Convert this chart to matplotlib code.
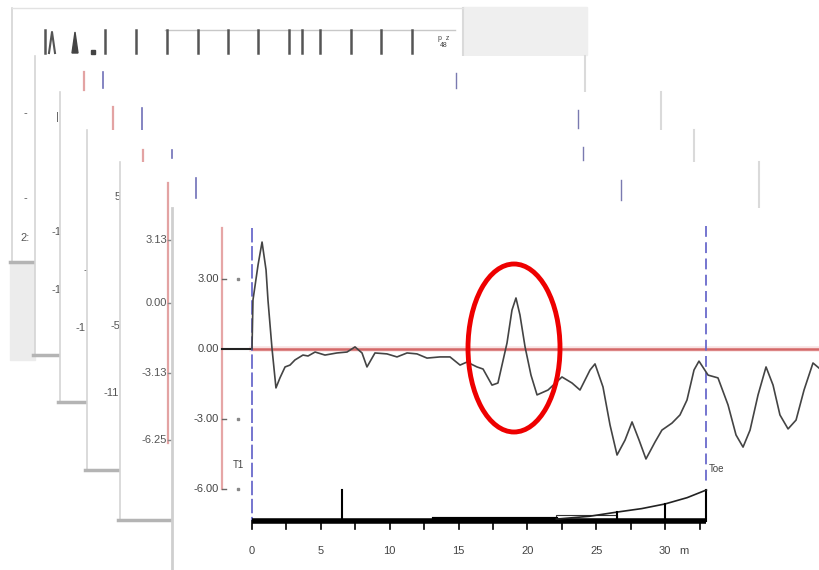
import matplotlib
matplotlib.use("Agg")
import matplotlib.pyplot as plt
from matplotlib.patches import Rectangle, Ellipse

plt.rcParams['font.family'] = ['Liberation Sans', 'DejaVu Sans']

# ---------------------------------------------------------------------------
# Datos de la traza principal (distancia en m, amplitud)
# ---------------------------------------------------------------------------
dist_m = [0.00, 0.07, 0.44, 0.73, 1.02, 1.16, 1.45, 1.74, 2.03, 2.40, 2.76,
          3.12, 3.70, 4.07, 4.58, 5.30, 6.17, 6.90, 7.48, 7.99, 8.35, 8.93,
          9.80, 10.53, 11.26, 11.98, 12.71, 13.65, 14.38, 15.11, 15.61,
          16.34, 16.78, 17.43, 17.86, 18.52, 18.88, 19.17, 19.46, 19.83,
          20.26, 20.70, 21.50, 22.51, 23.24, 23.82, 24.55, 24.91, 25.49,
          26.00, 26.51, 27.09, 27.60, 28.11, 28.61, 29.27, 29.77, 30.50,
          31.08, 31.59, 32.10, 32.46, 33.12, 33.84, 34.57, 35.15, 35.66,
          36.17, 36.75, 37.33, 37.84, 38.34, 38.93, 39.51, 40.09, 40.74,
          41.18]
amplitud = [0.00, 2.10, 3.61, 4.59, 3.39, 2.10, 0.04, -1.67, -1.24, -0.77,
            -0.69, -0.47, -0.26, -0.30, -0.13, -0.26, -0.17, -0.13, 0.09,
            -0.17, -0.77, -0.17, -0.21, -0.34, -0.17, -0.21, -0.39, -0.34,
            -0.34, -0.69, -0.56, -0.77, -0.86, -1.55, -1.46, 0.26, 1.67,
            2.19, 1.46, 0.09, -1.12, -1.97, -1.76, -1.20, -1.46, -1.76,
            -0.90, -0.64, -1.63, -3.26, -4.55, -3.91, -3.13, -3.91, -4.72,
            -3.99, -3.48, -3.18, -2.83, -2.19, -0.90, -0.52, -1.12, -1.24,
            -2.40, -3.69, -4.21, -3.48, -1.97, -0.77, -1.55, -2.83, -3.43,
            -3.05, -1.76, -0.60, -0.82]

y_ticks = [3, 0, -3, -6]
y_labels = ['3.00', '0.00', '-3.00', '-6.00']
x_ticks = [0, 5, 10, 15, 20, 25, 30]
x_minor = [0, 2.5, 5, 7.5, 10, 12.5, 15, 17.5, 20, 22.5, 25, 27.5, 30, 32.5]
toe_m = 33.0

# barra inferior (perfil de la pila)
bar_v = -7.38
spike_m, spike_top = 6.5, -6.05
seg_m = [13.2, 22.1]
curve_m = [22.1, 24.5, 26.5, 28.3, 30.0, 31.6, 33.0]
curve_v = [-7.30, -7.18, -7.00, -6.85, -6.65, -6.38, -6.05]
riser_m = [26.5, 30.0]
riser_v = [-7.00, -6.65]

# escala píxel <-> datos de la gráfica frontal
PXM, PXV = 13.77, 23.3
X0, Y0 = 252, 349

# ---------------------------------------------------------------------------
# Tarjetas traseras (capturas apiladas), en píxeles: izq, arriba, der, abajo
# ---------------------------------------------------------------------------
cards = [(12, 8, 463, 262), (35, 56, 585, 355), (60, 92, 661, 402),
         (87, 130, 694, 470), (120, 162, 759, 520)]
pink_x = [None, 84, 113, 143, 168]
pink_y = [None, (72, 90), (107, 130), (150, 162), (183, 443)]
blue_x = [None, 103, 142, 172, 196]
blue_y = [None, (72, 88), (108, 130), (150, 158), (178, 198)]
right_tick_x = [None, 456, 578, 583, 621]
right_tick_y = [None, (73, 88), (110, 128), (147, 160), (180, 200)]
card_texts = [
    [('-', 27, 113), ('-', 27, 198), ('2:', 30, 238)],
    [('|', 59, 117), ('-1', 62, 232), ('-1', 62, 290)],
    [('-', 87, 270), ('-1', 86, 328)],
    [('5', 121, 197), ('-5', 120, 326), ('-11', 119, 393)],
    [('3.13', 167, 240), ('0.00', 167, 303), ('-3.13', 167, 373),
     ('-6.25', 167, 440)],
]
top_ticks_x = [45, 105, 136, 167, 198, 228, 258, 289, 302, 320, 351, 381, 412]

fig = plt.figure(figsize=(8.19, 5.70), dpi=100)
bg = fig.add_axes([0, 0, 1, 1])
bg.set_xlim(0, 819)
bg.set_ylim(570, 0)
bg.axis('off')

# zonas grises de fondo
bg.add_patch(Rectangle((463, 7), 124, 48, color='#efefef', zorder=0))
bg.add_patch(Rectangle((10, 262), 25, 98, color='#ececec', zorder=0))
bg.plot([413, 595], [568, 568], color='#f2cccc', lw=1.5, zorder=0)

for i, (l, t, r, b) in enumerate(cards):
    z = 10 * (i + 1)
    bg.add_patch(Rectangle((l, t), r - l, b - t, facecolor='white',
                           edgecolor='none', zorder=z))
    bg.plot([l, l], [t, b], color='#d4d4d4', lw=1.2, zorder=z + 1)
    bg.plot([r, r], [t, b], color='#dadada', lw=1.5, zorder=z + 1)
    bg.plot([l - 2, r], [b, b], color='#b4b4b4', lw=2.5, zorder=z + 1)
    if i == 0:
        bg.plot([l, r], [t, t], color='#e2e2e2', lw=1, zorder=z + 1)
        bg.plot([165, 455], [30, 30], color='#c8c8c8', lw=1, zorder=z + 1)
        for tx in top_ticks_x:
            bg.plot([tx, tx], [30, 53], color='#555555', lw=1.8, zorder=z + 2)
        bg.plot([49, 52, 55], [53, 32, 53], color='#555555', lw=1.5, zorder=z + 2)
        bg.fill([72, 75, 78], [53, 32, 53], color='#444444', zorder=z + 2)
        bg.plot([93], [52], 's', color='#444444', ms=2.5, zorder=z + 2)
        bg.text(444, 42, 'p  z\n48', fontsize=5, color='#444444', ha='center',
                va='center', zorder=z + 2, linespacing=0.9)
        bg.plot([457, 457], [75, 90], color='#777777', lw=1, zorder=z + 2)
    else:
        bg.plot([pink_x[i]] * 2, pink_y[i], color='#e3a3a3', lw=1.6, zorder=z + 2)
        bg.plot([blue_x[i]] * 2, blue_y[i], color='#7070b8', lw=1.2, zorder=z + 2)
        bg.plot([right_tick_x[i]] * 2, right_tick_y[i], color='#7a7ab0', lw=1,
                zorder=z + 2)
    for s, tx, ty in card_texts[i]:
        bg.text(tx, ty, s, fontsize=8, color='#555555', ha='right', va='center',
                zorder=z + 3)
    if i == 4:
        for ty in [240, 303, 373, 440]:
            bg.plot([168, 171], [ty, ty], color='#888888', lw=1, zorder=z + 3)

# ---------------------------------------------------------------------------
# Gráfica frontal
# ---------------------------------------------------------------------------
ax = fig.add_axes([172 / 819, 0, 647 / 819, 362 / 570])
ax.set_xlim((172 - X0) / PXM, (819 - X0) / PXM)
ax.set_ylim((Y0 - 570) / PXV, (Y0 - 208) / PXV)
ax.set_facecolor('white')
for s in ax.spines.values():
    s.set_visible(False)
ax.set_xticks([])
ax.set_yticks([])
ax.plot([0, 0], [0, 1], transform=ax.transAxes, color='#cfcfcf', lw=2,
        clip_on=False)

m_axis = (222 - X0) / PXM
ax.plot([m_axis, m_axis], [5.2, -6.0], color='#e6a6a6', lw=1.6)
ax.plot([m_axis, 0], [0, 0], color='#222222', lw=1.5)
ax.plot([0, ax.get_xlim()[1]], [0, 0], color='#d46868', lw=1.8)
ax.plot([0, ax.get_xlim()[1]], [0, 0], color='#f3c9c9', lw=4, alpha=0.5,
        zorder=1)

ax.plot([0, 0], [5.2, bar_v], color='#6a6acc', lw=1.3, dashes=(8, 2))
ax.plot([toe_m, toe_m], [5.3, -5.85], color='#6a6acc', lw=1.3, dashes=(6, 3))
ax.text(-1.0, -5.0, 'T1', fontsize=7, color='#444444', ha='center', va='center')
ax.text(toe_m + 0.15, -5.15, 'Toe', fontsize=7, color='#444444', ha='left',
        va='center')

for v, lab in zip(y_ticks, y_labels):
    ax.text(m_axis - 0.2, v, lab, fontsize=8, color='#444444', ha='right',
            va='center')
    if v != 0:
        ax.plot([m_axis, m_axis + 0.3], [v, v], color='#666666', lw=1)
        ax.plot([-1.0], [v], 's', color='#888888', ms=1.5)

ax.plot(dist_m, amplitud, color='#444444', lw=1.2, zorder=4)

ax.add_patch(Ellipse(((514 - X0) / PXM, (Y0 - 348) / PXV), 92 / PXM,
                     168 / PXV, fill=False, edgecolor='#ee0000', lw=3.5,
                     zorder=5))

# barra inferior con escala en metros
ax.plot([0, toe_m], [bar_v, bar_v], color='black', lw=4, solid_capstyle='butt')
ax.plot(seg_m, [bar_v + 0.08] * 2, color='black', lw=3)
ax.plot([spike_m, spike_m], [bar_v, spike_top], color='black', lw=1.5)
ax.plot([toe_m, toe_m], [bar_v, curve_v[-1]], color='black', lw=1.5)
ax.plot(curve_m, curve_v, color='#222222', lw=1.2)
ax.add_patch(Rectangle((22.1, bar_v), 4.4, 0.26, fill=False,
                       edgecolor='#333333', lw=0.8))
for m, v in zip(riser_m, riser_v):
    ax.plot([m, m], [bar_v, v], color='black', lw=1.5)
for m in x_minor:
    ax.plot([m, m], [bar_v, bar_v - 0.35], color='black', lw=1.2)
for m in x_ticks:
    ax.text(m, -8.65, str(m), fontsize=8, color='#444444', ha='center',
            va='center')
ax.text(31.4, -8.65, 'm', fontsize=8, color='#444444', ha='center',
        va='center')

fig.savefig('out.png', dpi=100)
